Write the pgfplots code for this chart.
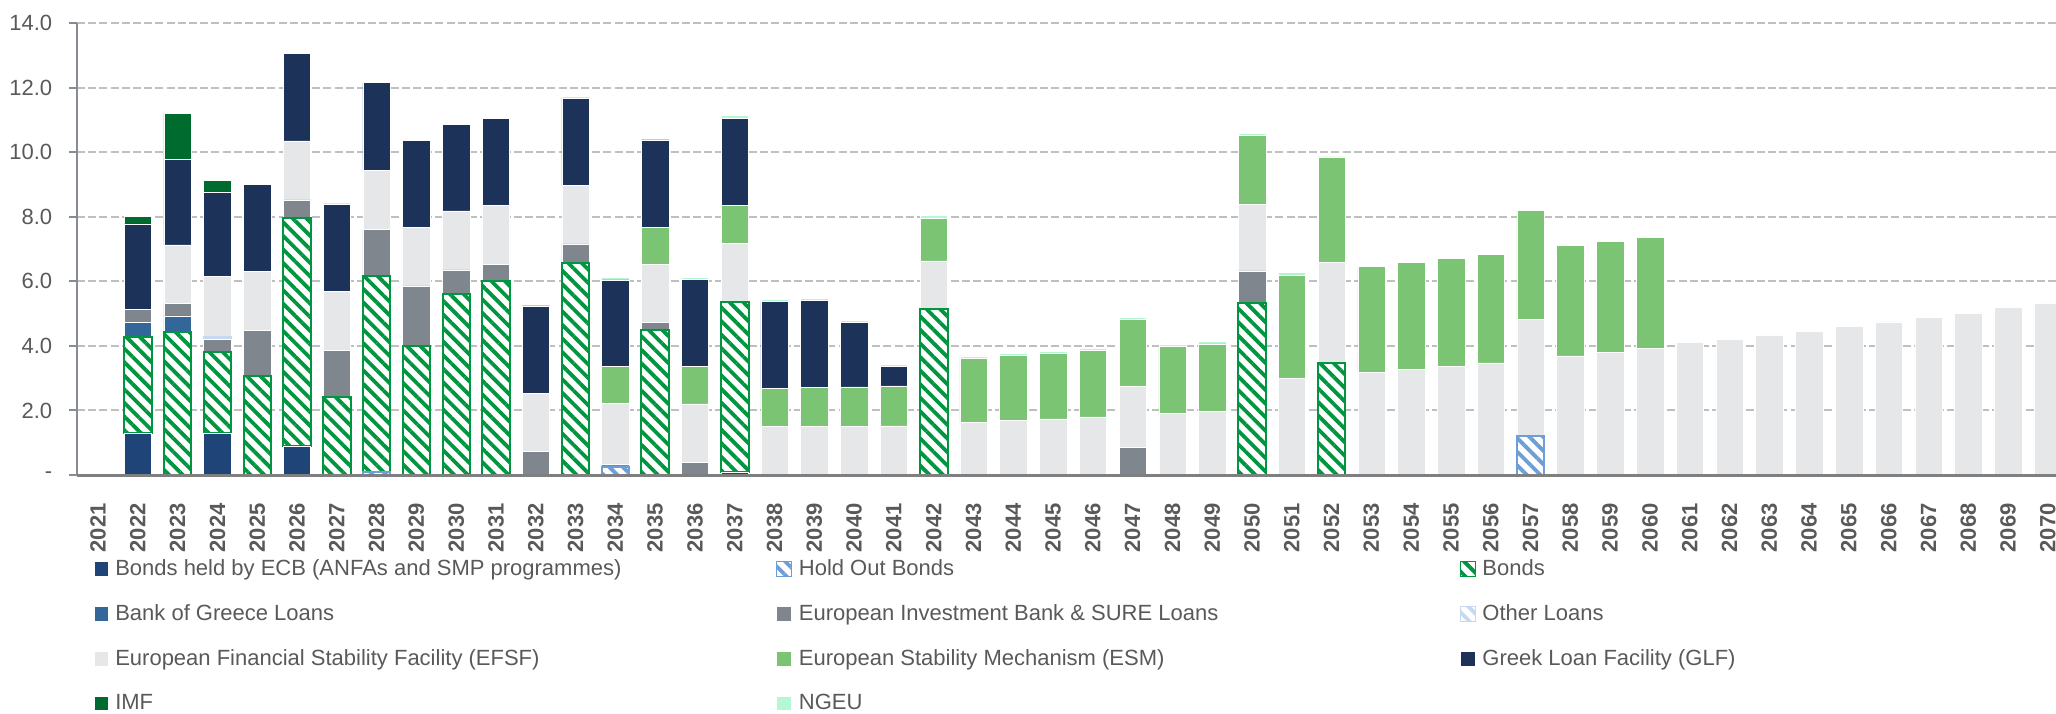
\documentclass[border=0pt]{standalone}
\usepackage{fontspec}
\setmainfont{Liberation Sans}
\usepackage{pgfplots}
\pgfplotsset{compat=1.18}
\usepackage{pgfplotstable}
\usetikzlibrary{patterns.meta}

\definecolor{cECB}{HTML}{1F4478}
\definecolor{cHold}{HTML}{6E9ED6}
\definecolor{cBonds}{HTML}{00963F}
\definecolor{cBoG}{HTML}{336699}
\definecolor{cEIB}{HTML}{7F868E}
\definecolor{cOth}{HTML}{C5D9F0}
\definecolor{cEFSF}{HTML}{E6E7E8}
\definecolor{cESM}{HTML}{7AC474}
\definecolor{cGLF}{HTML}{1C3259}
\definecolor{cIMF}{HTML}{006B2E}
\definecolor{cNGEU}{HTML}{B3F7D4}
\definecolor{cText}{HTML}{595959}
\definecolor{cGrid}{HTML}{BFBFBF}
\definecolor{cYaxis}{HTML}{878C93}
\definecolor{cXaxis}{HTML}{7F7F7F}

\pgfplotstableread{
yr   ecb  hold bonds bog  eib  oth  efsf esm  glf  imf  ngeu
2021 0    0    0    0    0    0    0    0    0    0    0
2022 1.29 0    2.98 0.46 0.40 0    0    0    2.65 0.23 0
2023 0    0    4.44 0.49 0.39 0    1.81 0    2.65 1.43 0
2024 1.29 0    2.53 0    0.38 0.08 1.86 0    2.63 0.36 0
2025 0    0    3.07 0    1.40 0    1.83 0    2.71 0    0
2026 0.90 0    7.05 0    0.57 0    1.83 0    2.72 0    0
2027 0    0    2.41 0    1.44 0    1.83 0    2.72 0    0
2028 0    0.10 6.07 0    1.44 0    1.83 0    2.72 0    0
2029 0    0    4.01 0    1.85 0    1.81 0    2.69 0    0
2030 0    0    5.61 0    0.74 0    1.83 0    2.69 0    0
2031 0    0    6.01 0    0.52 0    1.82 0    2.70 0    0
2032 0    0    0    0    0.72 0    1.81 0    2.71 0    0.05
2033 0    0    6.56 0    0.60 0    1.82 0    2.68 0    0.06
2034 0    0.25 0    0    0.09 0    1.88 1.14 2.68 0    0.08
2035 0    0    4.49 0    0.23 0    1.81 1.14 2.71 0    0.05
2036 0    0    0    0    0.39 0    1.81 1.16 2.70 0    0.07
2037 0.08 0    5.29 0    0    0    1.81 1.18 2.69 0    0.08
2038 0    0    0    0    0    0    1.50 1.19 2.68 0    0.07
2039 0    0    0    0    0    0    1.50 1.21 2.69 0    0.06
2040 0    0    0    0    0    0    1.50 1.23 1.99 0    0.06
2041 0    0    0    0    0    0    1.52 1.24 0.60 0    0.07
2042 0    0    5.14 0    0    0    1.49 1.32 0    0    0.08
2043 0    0    0    0    0    0    1.63 1.99 0    0    0.07
2044 0    0    0    0    0    0    1.68 2.02 0    0    0.06
2045 0    0    0    0    0    0    1.74 2.03 0    0    0.06
2046 0    0    0    0    0    0    1.80 2.05 0    0    0.07
2047 0    0    0    0    0.86 0    1.88 2.08 0    0    0.07
2048 0    0    0    0    0    0    1.90 2.08 0    0    0.07
2049 0    0    0    0    0    0    1.96 2.10 0    0    0.07
2050 0    0    5.32 0    1.00 0    2.07 2.13 0    0    0.07
2051 0    0    0    0    0    0    2.98 3.22 0    0    0.07
2052 0    0    3.46 0    0    0    3.12 3.27 0    0    0
2053 0    0    0    0    0    0    3.17 3.29 0    0    0
2054 0    0    0    0    0    0    3.27 3.31 0    0    0
2055 0    0    0    0    0    0    3.37 3.34 0    0    0
2056 0    0    0    0    0    0    3.47 3.37 0    0    0
2057 0    1.21 0    0    0    0    3.61 3.38 0    0    0
2058 0    0    0    0    0    0    3.69 3.41 0    0    0
2059 0    0    0    0    0    0    3.80 3.43 0    0    0
2060 0    0    0    0    0    0    3.92 3.45 0    0    0
2061 0    0    0    0    0    0    4.10 0    0    0    0
2062 0    0    0    0    0    0    4.21 0    0    0    0
2063 0    0    0    0    0    0    4.34 0    0    0    0
2064 0    0    0    0    0    0    4.46 0    0    0    0
2065 0    0    0    0    0    0    4.60 0    0    0    0
2066 0    0    0    0    0    0    4.74 0    0    0    0
2067 0    0    0    0    0    0    4.88 0    0    0    0
2068 0    0    0    0    0    0    5.02 0    0    0    0
2069 0    0    0    0    0    0    5.18 0    0    0    0
2070 0    0    0    0    0    0    5.33 0    0    0    0
}\debt

\newcommand\lgent[1]{\makebox[330.5pt][l]{#1}}

\pgfplotsset{
  sbar/.style={fill=#1, draw=white, line width=0.3pt},
  hbar/.style={fill=white, draw=#1, line width=1pt,
     postaction={pattern={Lines[angle=-45,distance=4.8pt,line width=1.9pt]}, pattern color=#1}},
}

\begin{document}
\begin{tikzpicture}
\begin{axis}[
  name=ax,
  scale only axis, width=989.5pt, height=226pt,
  xmin=2020.47, xmax=2070.2, ymin=0, ymax=14,
  ybar stacked, bar width=0.69,
  axis lines*=left,
  y axis line style={draw=cYaxis, line width=1pt},
  x axis line style={draw=cXaxis, line width=1.5pt},
  ytick={0,2,...,14},
  yticklabels={-,2.0,4.0,6.0,8.0,10.0,12.0,14.0},
  xtick={2021,...,2070},
  xticklabel={\pgfmathparse{int(round(\tick))}\pgfmathresult},
  xtick style={draw=none},
  ytick style={draw=cYaxis, line width=1pt},
  tick align=outside, major tick length=4pt,
  ymajorgrids,
  major grid style={dash pattern=on 4pt off 1.6pt, line width=1pt, draw=cGrid},
  tick label style={font=\fontsize{11}{13}\selectfont, text=cText},
  yticklabel style={anchor=east, inner sep=0pt, xshift=-8.25pt},
  xticklabel style={font=\fontsize{11}{13}\selectfont\bfseries, yshift=-10pt, rotate=90, anchor=east, inner sep=0pt},
  legend columns=3,
  legend cell align=left,
  legend style={at={(0,0)}, anchor=north west, xshift=8pt, yshift=-42pt,
     draw=none, fill=none, inner sep=0pt, row sep=13pt, column sep=0pt,
     font=\fontsize{11}{13}\selectfont, text=cText,
     nodes={inner sep=0pt}},
  legend image code/.code={\draw[#1, line width=0.6pt] (0pt,-3.75pt) rectangle (7.5pt,3.75pt); \path (10.5pt,0pt);},
]
\addplot[sbar=cECB]  table[x=yr,y=ecb]{\debt};   \addlegendentry{\lgent{Bonds held by ECB (ANFAs and SMP programmes)}}
\addplot[hbar=cHold] table[x=yr,y=hold]{\debt};  \addlegendentry{\lgent{Hold Out Bonds}}
\addplot[hbar=cBonds] table[x=yr,y=bonds]{\debt}; \addlegendentry{\lgent{Bonds}}
\addplot[sbar=cBoG]  table[x=yr,y=bog]{\debt};   \addlegendentry{\lgent{Bank of Greece Loans}}
\addplot[sbar=cEIB]  table[x=yr,y=eib]{\debt};   \addlegendentry{\lgent{European Investment Bank \& SURE Loans}}
\addplot[hbar=cOth]  table[x=yr,y=oth]{\debt};   \addlegendentry{\lgent{Other Loans}}
\addplot[sbar=cEFSF] table[x=yr,y=efsf]{\debt};  \addlegendentry{\lgent{European Financial Stability Facility (EFSF)}}
\addplot[sbar=cESM]  table[x=yr,y=esm]{\debt};   \addlegendentry{\lgent{European Stability Mechanism (ESM)}}
\addplot[sbar=cGLF]  table[x=yr,y=glf]{\debt};   \addlegendentry{\lgent{Greek Loan Facility (GLF)}}
\addplot[sbar=cIMF]  table[x=yr,y=imf]{\debt};   \addlegendentry{\lgent{IMF}}
\addplot[sbar=cNGEU] table[x=yr,y=ngeu]{\debt};  \addlegendentry{\lgent{NGEU}}
\end{axis}
\draw[cXaxis, line width=1.5pt] (ax.south west) -- (ax.south east);
\pgfresetboundingbox
\path[use as bounding box] (-38.5pt,-119pt) rectangle (989.5pt,237.5pt);
\end{tikzpicture}
\end{document}
